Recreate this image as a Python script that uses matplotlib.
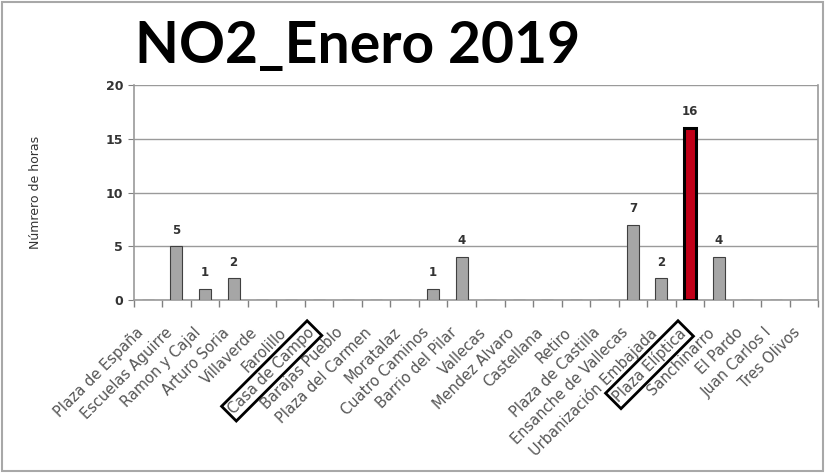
import numpy as np
import matplotlib
matplotlib.use('Agg')
import matplotlib.pyplot as plt
from matplotlib.patches import Rectangle
from matplotlib.transforms import ScaledTranslation

estaciones = ['Plaza de España', 'Escuelas Aguirre', 'Ramon y Cajal', 'Arturo Soria',
              'Villaverde', 'Farolillo', 'Casa de Campo', 'Barajas Pueblo',
              'Plaza del Carmen', 'Moratalaz', 'Cuatro Caminos', 'Barrio del Pilar',
              'Vallecas', 'Mendez Alvaro', 'Castellana', 'Retiro', 'Plaza de Castilla',
              'Ensanche de Vallecas', 'Urbanización Embajada', 'Plaza Elíptica',
              'Sanchinarro', 'El Pardo', 'Juan Carlos I', 'Tres Olivos']
horas = [0, 5, 1, 2, 0, 0, 0, 0, 0, 0, 1, 4, 0, 0, 0, 0, 0, 7, 2, 16, 4, 0, 0, 0]
destacada = 'Plaza Elíptica'
recuadro = ['Casa de Campo', 'Plaza Elíptica']

fig = plt.figure(figsize=(8.25, 4.76), dpi=100)
fig.patches.append(Rectangle((0.003, 0.01), 0.994, 0.985, transform=fig.transFigure,
                             fill=False, edgecolor='#a8a8a8', linewidth=1.5))
ax = fig.add_axes([0.162, 0.370, 0.830, 0.451])

x = np.arange(len(estaciones))
colores = ['#c00018' if e == destacada else '#a6a6a6' for e in estaciones]
bordes = ['black' if e == destacada else '#404040' for e in estaciones]
anchos = [2.2 if e == destacada else 0.8 for e in estaciones]
ax.bar(x, horas, width=0.42, color=colores, edgecolor=bordes, linewidth=anchos, zorder=3)

for xi, h in zip(x, horas):
    if h > 0:
        ax.text(xi, h + 0.9, str(h), ha='center', va='bottom', fontsize=8.5,
                fontweight='bold', color='#333333')

ax.set_xlim(-0.5, len(estaciones) - 0.5)
ax.set_ylim(0, 20)
ax.set_yticks([0, 5, 10, 15, 20])
ax.yaxis.grid(True, color='#9a9a9a', linewidth=1, zorder=0)
ax.set_xticks(np.arange(-0.5, len(estaciones), 1.0))
ax.set_xticklabels([])
ax.set_xticks(x, minor=True)
ax.set_xticklabels(estaciones, minor=True, rotation=45, ha='right', rotation_mode='anchor',
                   fontsize=10.5, color='#555555')
ax.tick_params(axis='x', which='minor', length=0, pad=18)
ax.tick_params(axis='x', which='major', length=5, color='#808080', width=1)
ax.tick_params(axis='y', length=4, color='#808080', labelsize=9, labelcolor='#333333')
for lbl in ax.get_yticklabels():
    lbl.set_fontweight('bold')

ax.spines['top'].set_visible(False)
for s in ['left', 'right', 'bottom']:
    ax.spines[s].set_color('#9a9a9a')
    ax.spines[s].set_linewidth(1.2)

desplazar = ScaledTranslation(-12 / 100, 0, fig.dpi_scale_trans)
for lbl in ax.get_xticklabels(minor=True):
    lbl.set_transform(lbl.get_transform() + desplazar)
    if lbl.get_text() in recuadro:
        lbl.set_bbox(dict(facecolor='none', edgecolor='black', linewidth=2,
                          boxstyle='square,pad=0.2'))

ax.set_ylabel('Númrero de horas', fontsize=9, color='#333333', labelpad=46)

fig.text(0.433, 0.868, 'NO2_Enero 2019', ha='center', va='baseline', fontsize=41,
         fontweight='bold', family=['Lato', 'DejaVu Sans'])

fig.savefig('out.png', dpi=100)
